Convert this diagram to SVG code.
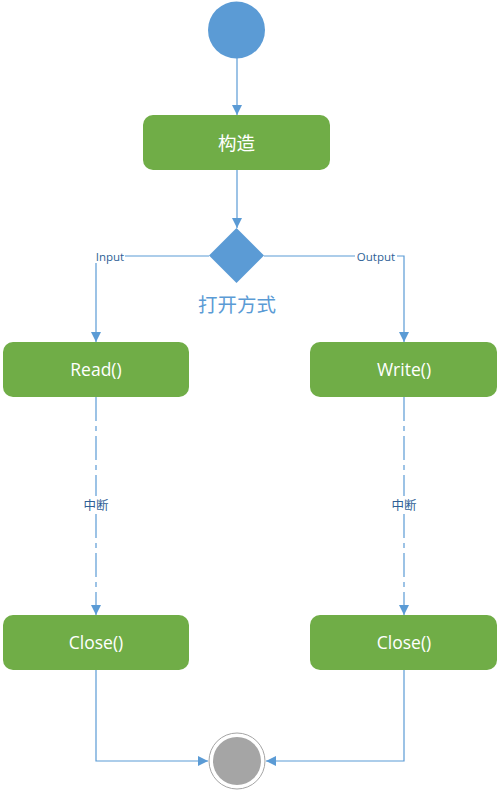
<svg xmlns="http://www.w3.org/2000/svg" width="499" height="790" viewBox="0 0 499 790">
<defs>
<marker id="arr" viewBox="0 0 10 10" refX="10" refY="5" markerWidth="10" markerHeight="10" markerUnits="userSpaceOnUse" orient="auto">
<path d="M0,0 L10,5 L0,10 Z" fill="#5B9BD5"/>
</marker>
<style>
.box{fill:#70AD47;}
.bt{fill:#FFFFFF;font-family:"Open Sans","Noto Sans","Noto Sans CJK SC",sans-serif;font-size:17.5px;text-anchor:middle;dominant-baseline:central;}
.ln{fill:none;stroke:#5B9BD5;stroke-width:1.2;}
.lt{fill:#2E5F96;font-family:"Open Sans","Noto Sans","Noto Sans CJK SC",sans-serif;font-size:11.5px;text-anchor:middle;dominant-baseline:central;}
.lb{fill:#FFFFFF;}
.dash{stroke-dasharray:24 5 5 5;}
</style>
</defs>
<rect width="499" height="790" fill="#FFFFFF"/>
<g id="connectors">
<line class="ln" x1="237" y1="58" x2="237" y2="115" marker-end="url(#arr)"/>
<line class="ln" x1="237" y1="170" x2="237" y2="228" marker-end="url(#arr)"/>
<polyline class="ln" points="209,256 96,256 96,342" marker-end="url(#arr)"/>
<polyline class="ln" points="264,256 404,256 404,342" marker-end="url(#arr)"/>
<line class="ln dash" x1="96" y1="397" x2="96" y2="615" marker-end="url(#arr)"/>
<line class="ln dash" x1="404" y1="397" x2="404" y2="615" marker-end="url(#arr)"/>
<polyline class="ln" points="96,670 96,761 208,761" marker-end="url(#arr)"/>
<polyline class="ln" points="404,670 404,761 266,761" marker-end="url(#arr)"/>
<rect class="lb" x="95" y="249" width="30" height="14"/>
<text class="lt" x="110" y="256">Input</text>
<rect class="lb" x="355" y="249" width="42" height="14"/>
<text class="lt" x="376" y="256">Output</text>
<rect class="lb" x="81" y="496" width="30" height="18"/>
<text class="lt" x="96" y="505" style="font-size:12.5px">中断</text>
<rect class="lb" x="389" y="496" width="30" height="18"/>
<text class="lt" x="404" y="505" style="font-size:12.5px">中断</text>
</g>
<g id="start"><circle cx="236.5" cy="30" r="28.5" fill="#5B9BD5"/></g>
<g id="construct"><rect class="box" x="143" y="115" width="187" height="55" rx="10"/><text class="bt" x="236.5" y="142.5" style="font-size:18.5px">构造</text></g>
<g id="decision"><polygon points="236.5,228 264,255.5 236.5,283 209,255.5" fill="#5B9BD5"/><text x="237" y="303" fill="#5B9BD5" font-family="'Noto Sans CJK SC',sans-serif" font-size="19.5" text-anchor="middle" dominant-baseline="central">打开方式</text></g>
<g id="read"><rect class="box" x="3" y="342" width="186" height="55" rx="10"/><text class="bt" x="96" y="368.5">Read()</text></g>
<g id="write"><rect class="box" x="310" y="342" width="187" height="55" rx="10"/><text class="bt" x="404" y="368.5">Write()</text></g>
<g id="close1"><rect class="box" x="3" y="615" width="186" height="55" rx="10"/><text class="bt" x="96" y="641.5">Close()</text></g>
<g id="close2"><rect class="box" x="310" y="615" width="187" height="55" rx="10"/><text class="bt" x="404" y="641.5">Close()</text></g>
<g id="end"><circle cx="237" cy="761" r="28" fill="#FFFFFF" stroke="#A5A5A5" stroke-width="1"/><circle cx="237" cy="761" r="24" fill="#A5A5A5"/></g>
</svg>
